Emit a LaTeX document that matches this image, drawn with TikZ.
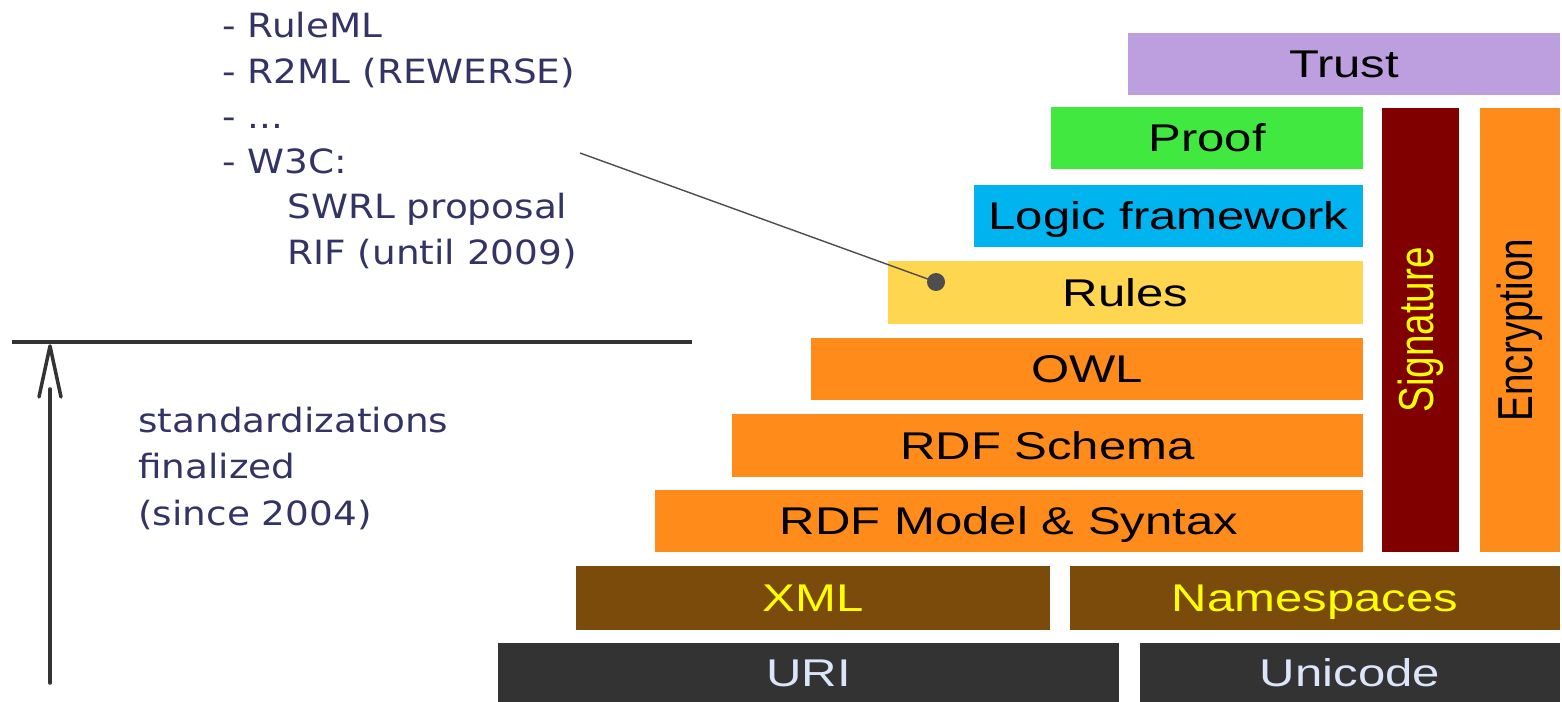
\documentclass[tikz,border=0pt]{standalone}
\usepackage{fontspec}
\usepackage{graphicx}
\setmainfont{DejaVu Sans}
\newfontfamily\arialf{Liberation Sans}
\definecolor{navy}{RGB}{51,51,102}
\definecolor{ctrust}{RGB}{189,158,222}
\definecolor{cproof}{RGB}{64,232,64}
\definecolor{clogic}{RGB}{0,180,240}
\definecolor{crules}{RGB}{255,214,79}
\definecolor{corange}{RGB}{255,140,26}
\definecolor{csig}{RGB}{128,0,0}
\definecolor{cbrown}{RGB}{122,75,10}
\definecolor{cdark}{RGB}{51,51,51}
\definecolor{clight}{RGB}{220,230,250}
\definecolor{cyel}{RGB}{255,255,0}
\definecolor{cline}{RGB}{51,51,51}
\definecolor{cdot}{RGB}{77,77,77}
\newcommand{\wide}[1]{\scalebox{1.27}[1]{#1}}
\newcommand{\nwide}[1]{\scalebox{1.12}[1]{#1}}
\begin{document}
\begin{tikzpicture}[x=0.02cm,y=-0.02cm,
  lsize/.style n args={2}{minimum width=#1*0.02cm, minimum height=#2*0.02cm},
  layer/.style={inner sep=0pt, outer sep=0pt, draw=none, text=black, anchor=center,
    font=\arialf\fontsize{22}{26}\selectfont, text height=15.8pt, text depth=0pt},
  vlayer/.style={inner sep=0pt, outer sep=0pt, draw=none, anchor=center,
    font=\arialf\fontsize{22}{26}\selectfont},
  note/.style={anchor=base west, inner sep=0pt, text=navy, font=\fontsize{19}{23}\selectfont},
  thick line/.style={draw=cline, line width=2pt, line cap=round, line join=round}]
\useasboundingbox (0,0) rectangle (1562,702);

% layers
\node[layer, lsize={432}{62}, fill=ctrust] (trust) at (1344,64) {\wide{Trust}};
\node[layer, lsize={312}{62}, fill=cproof] (proof) at (1207,138) {\wide{Proof}};
\node[layer, lsize={389}{62}, fill=clogic] (logic) at (1168.5,216) {\wide{Logic framework}};
\node[layer, lsize={475}{63}, fill=crules] (rules) at (1125.5,292.5) {\wide{Rules}};
\node[layer, lsize={552}{62}, fill=corange] (owl) at (1087,369) {\wide{OWL}};
\node[layer, lsize={631}{63}, fill=corange] (rdfs) at (1047.5,445.5) {\wide{RDF Schema}};
\node[layer, lsize={708}{62}, fill=corange] (rdfm) at (1009,521) {\wide{RDF Model \& Syntax}};
\node[vlayer, lsize={77}{444}, fill=csig, text=cyel] (sig) at (1420.5,330) {\wide{\rotatebox{90}{Signature}}};
\node[vlayer, lsize={80}{444}, fill=corange, text=black] (enc) at (1520,330) {\wide{\rotatebox{90}{Encryption}}};
\node[layer, lsize={474}{64}, fill=cbrown, text=cyel] (xml) at (813,598) {\wide{XML}};
\node[layer, lsize={490}{64}, fill=cbrown, text=cyel] (ns) at (1315,598) {\wide{Namespaces}};
\node[layer, lsize={621}{59}, fill=cdark, text=clight] (uri) at (808.5,672.5) {\wide{URI}};
\node[layer, lsize={420}{59}, fill=cdark, text=clight] (uni) at (1350,672.5) {\wide{Unicode}};

% notes top left
\node[note] (n1) at (222,38) {\nwide{- RuleML}};
\node[note] (n2) at (222,84) {\nwide{- R2ML (REWERSE)}};
\node[note] (n3) at (222,129) {\nwide{- ...}};
\node[note] (n4) at (222,174) {\nwide{- W3C:}};
\node[note] (n5) at (287,219) {\nwide{SWRL proposal}};
\node[note] (n6) at (287,265) {\nwide{RIF (until 2009)}};

% pointer to rules
\node[circle, fill=cdot, inner sep=0pt, minimum size=0.36cm] (dot) at (936,282) {};
\coordinate (pstart) at (580,153);
\draw[draw=cdot, line width=0.8pt] (pstart) -- (dot.center);

% standardization line and arrow
\coordinate (hl) at (12,342);
\coordinate (hr) at (692,342);
\draw[draw=cline, line width=2.2pt] (hl) -- (hr);
\coordinate (abot) at (50,683);
\coordinate (astem) at (50,389);
\coordinate (atip) at (50,346);
\coordinate (abl) at (39,397);
\coordinate (abr) at (61,397);
\draw[thick line] (abot) -- (astem);
\draw[thick line] (abl) -- (atip) -- (abr);

% bottom left notes
\node[note] (s1) at (138,433) {\nwide{standardizations}};
\node[note] (s2) at (138,479) {\nwide{finalized}};
\node[note] (s3) at (138,525) {\nwide{(since 2004)}};
\end{tikzpicture}
\end{document}
